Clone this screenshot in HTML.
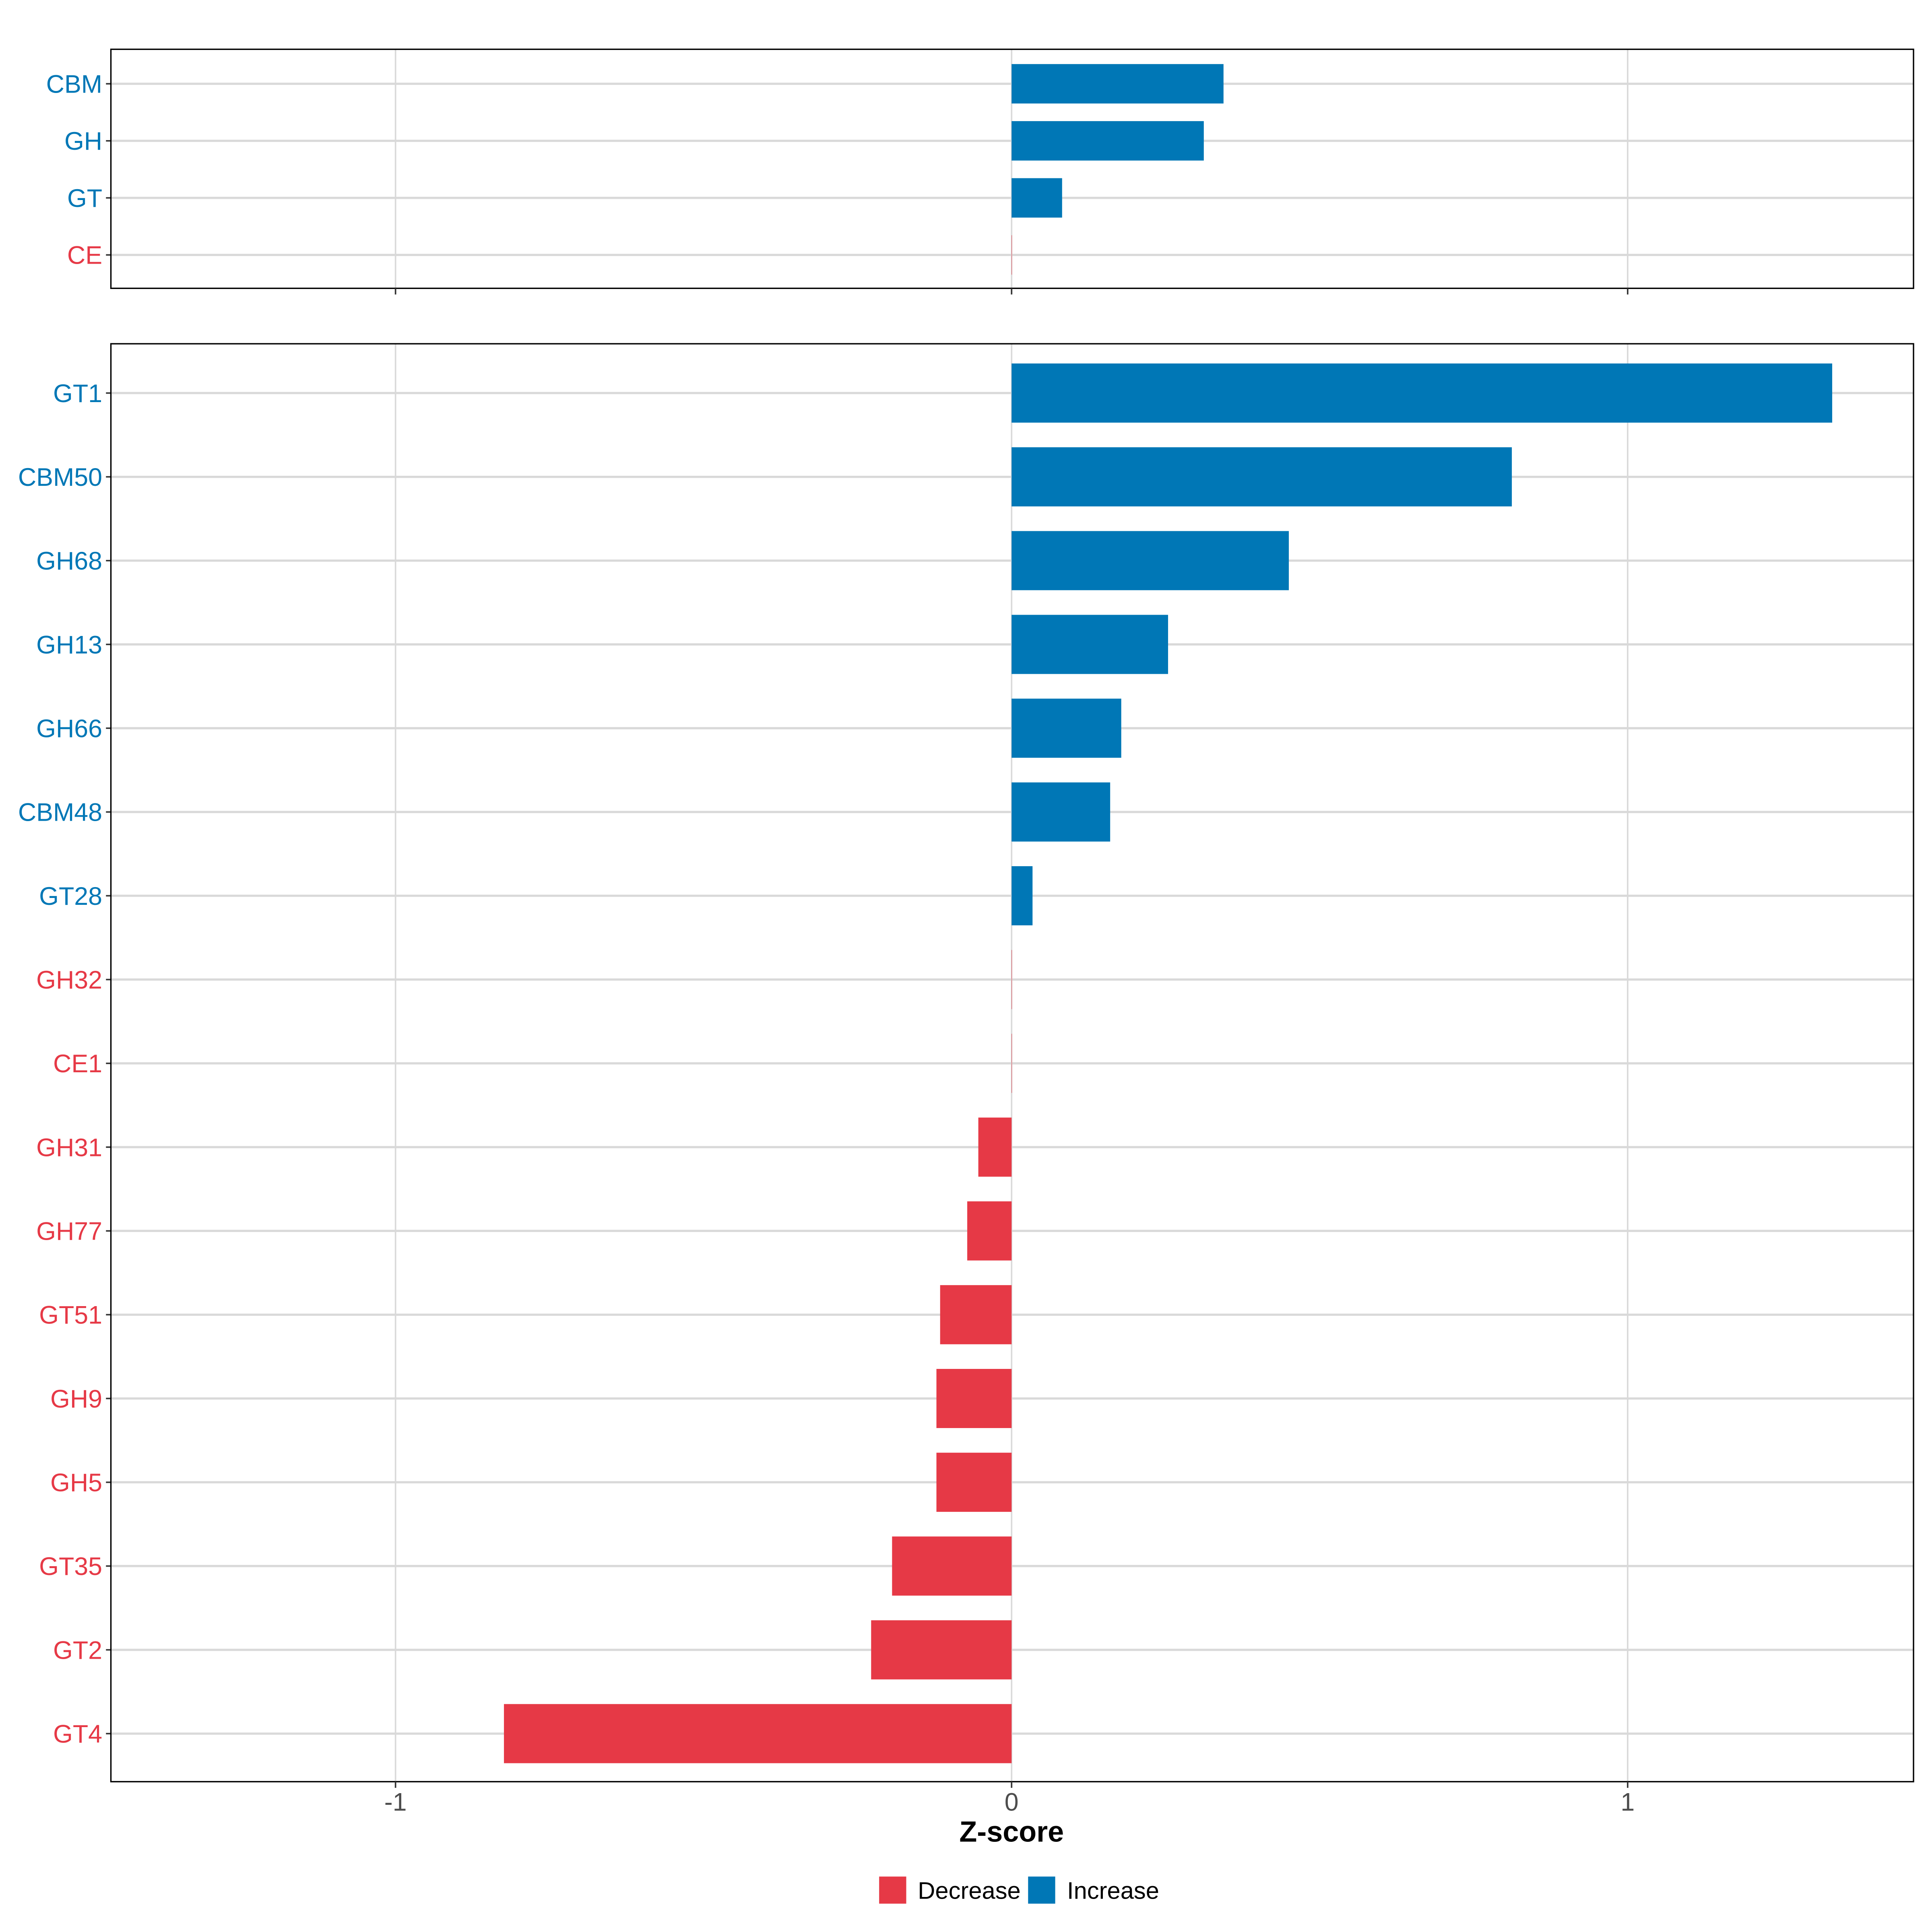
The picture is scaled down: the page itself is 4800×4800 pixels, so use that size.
<!DOCTYPE html>
<html><head><meta charset="utf-8"><style>
html,body{margin:0;padding:0;background:#fff;}
svg{display:block;}
text{font-family:"Liberation Sans",Arial,sans-serif;}
</style></head><body>
<svg id="chart" width="4800" height="4800" viewBox="0 0 1568 1568" xmlns="http://www.w3.org/2000/svg">
<rect x="0" y="0" width="1568" height="1568" fill="#fff"/>
<g id="top"></g>
<g id="bottom"></g>
<g id="axis"></g>
</svg>
<script>
const topCategories = ["CBM","GH","GT","CE"];
const topValues = [0.344, 0.312, 0.082, 0];
const bottomCategories = ["GT1","CBM50","GH68","GH13","GH66","CBM48","GT28","GH32","CE1","GH31","GH77","GT51","GH9","GH5","GT35","GT2","GT4"];
const bottomValues = [1.332, 0.812, 0.45, 0.254, 0.178, 0.16, 0.034, 0, 0, -0.054, -0.072, -0.116, -0.122, -0.122, -0.194, -0.228, -0.824];
const xTicks = [-1, 0, 1];
const xTickLabels = ["-1","0","1"];

const NS = "http://www.w3.org/2000/svg";
const BLUE = "#0077B6", RED = "#E63946", GRID = "#d9d9d9";
const X0 = 90, X1 = 1553;
function xs(v){ return 821 + v*500; }
function mk(tag, attrs, parent){
  const e = document.createElementNS(NS, tag);
  for (const k in attrs) e.setAttribute(k, attrs[k]);
  parent.appendChild(e); return e;
}
function panel(g, cats, vals, top, bottom, firstY, step, barH, name){
  const bg = mk('rect', {x:X0, y:top, width:X1-X0, height:bottom-top, fill:'#fff'}, g);
  
  
  xTicks.forEach(t => {
    const l = mk('line', {x1:xs(t), x2:xs(t), y1:top, y2:bottom, stroke:GRID, 'stroke-width':1.2}, g);
    
    
  });
  cats.forEach((c, i) => {
    const y = firstY + i*step;
    const l = mk('line', {x1:X0, x2:X1, y1:y, y2:y, stroke:GRID, 'stroke-width':1.8}, g);
    
    
  });
  cats.forEach((c, i) => {
    const y = firstY + i*step, v = vals[i];
    const col = v > 0 ? BLUE : RED;
    const xa = Math.min(xs(0), xs(v)), w = Math.abs(xs(v) - xs(0));
    const b = mk('rect', {x:xa, y:y-barH/2, width:Math.max(w,0.3), height:barH, fill:col}, g);
    
    
    const tk = mk('line', {x1:X0-4, x2:X0, y1:y, y2:y, stroke:'#333', 'stroke-width':1.2}, g);
    
    
    const t = mk('text', {x:X0-7, y:y+7.3, 'text-anchor':'end', 'font-size':20.5, fill:col}, g);
    t.textContent = c;
    
    
  });
  const f = mk('rect', {x:X0, y:top, width:X1-X0, height:bottom-top, fill:'none', stroke:'#000', 'stroke-width':1.1}, g);
  
  
  xTicks.forEach(t => {
    const l = mk('line', {x1:xs(t), x2:xs(t), y1:bottom, y2:bottom+5, stroke:'#333', 'stroke-width':1.2}, g);
    
    
  });
}
panel(document.getElementById('top'), topCategories, topValues, 40, 234, 68, 46.3, 32, 'top-panel');
panel(document.getElementById('bottom'), bottomCategories, bottomValues, 279, 1446, 319, 68, 48, 'bottom-panel');

const ax = document.getElementById('axis');
xTicks.forEach((t, i) => {
  const e = mk('text', {x:xs(t), y:1469.5, 'text-anchor':'middle', 'font-size':20.5, fill:'#4d4d4d'}, ax);
  e.textContent = xTickLabels[i];
  
  
});
const xt = mk('text', {x:821, y:1494.6, 'text-anchor':'middle', 'font-size':23.5, 'font-weight':'bold', fill:'#000'}, ax);
xt.textContent = 'Z-score';


</script>
<svg style="position:absolute;left:0;top:0" width="4800" height="4800" viewBox="0 0 1568 1568" xmlns="http://www.w3.org/2000/svg">
<g>
<rect x="713.5" y="1523" width="22" height="22" fill="#E63946"/>
<text x="744.9" y="1541" font-size="19.5" font-family="Liberation Sans, sans-serif" fill="#000">Decrease</text>
</g>
<g>
<rect x="834.4" y="1523" width="22" height="22" fill="#0077B6"/>
<text x="866" y="1541" font-size="19.5" font-family="Liberation Sans, sans-serif" fill="#000">Increase</text>
</g>
</svg>
</body></html>
